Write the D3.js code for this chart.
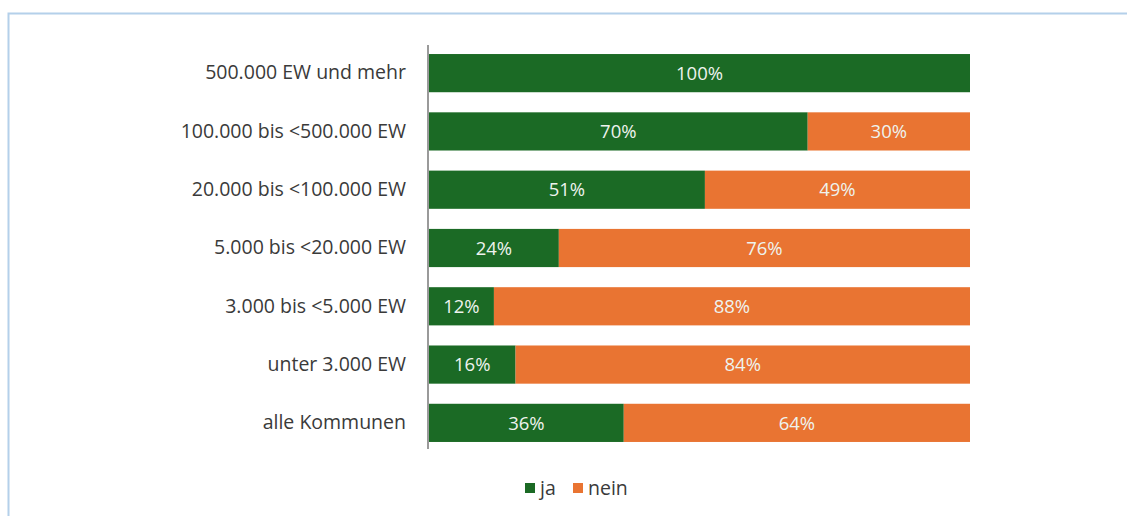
<!DOCTYPE html>
<html>
<head>
<meta charset="utf-8">
<script src="https://cdn.jsdelivr.net/npm/d3@7"></script>
<style>
  body { margin: 0; background: #fff; }
  svg text { font-family: "Open Sans", "Noto Sans", sans-serif; }
</style>
</head>
<body>
<div id="graph"></div>
<script>
const categories = ["500.000 EW und mehr", "100.000 bis <500.000 EW", "20.000 bis <100.000 EW",
  "5.000 bis <20.000 EW", "3.000 bis <5.000 EW", "unter 3.000 EW", "alle Kommunen"];
const ja = [100, 70, 51, 24, 12, 16, 36];
const nein = [0, 30, 49, 76, 88, 84, 64];
const seriesNames = ["ja", "nein"];
const colors = ["#1b6a25", "#e97432"];

const fullWidth = 1127;
const fullHeight = 516;

const svg = d3.select("#graph")
  .append("svg")
  .attr("width", fullWidth)
  .attr("height", fullHeight);

// frame (light blue, top and left)
svg.append("path")
  .attr("d", "M8.5,516 V13.5 H1127")
  .attr("fill", "none")
  .attr("stroke", "#b4d0ea")
  .attr("stroke-width", 2);

const rows = categories.map((c, i) => ({ name: c, ja: ja[i], nein: nein[i] }));
const stacked = d3.stack().keys(seriesNames)(rows);

const x = d3.scaleLinear().domain([0, 100]).range([429, 970]);
// step 58, bar 38
const y = d3.scaleBand().domain(categories).range([45, 451]).paddingInner(20 / 58).paddingOuter(0.155);

// bars
const groups = svg.append("g").selectAll("g")
  .data(stacked)
  .enter().append("g")
  .attr("fill", (d, i) => colors[i]);

groups.selectAll("rect")
  .data(d => d.filter(s => s[1] - s[0] > 0))
  .enter().append("rect")
  .attr("x", d => x(d[0]))
  .attr("y", d => y(d.data.name))
  .attr("width", d => x(d[1]) - x(d[0]))
  .attr("height", y.bandwidth());

// value labels
groups.selectAll("text")
  .data(d => d.filter(s => s[1] - s[0] > 0))
  .enter().append("text")
  .attr("x", d => (x(d[0]) + x(d[1])) / 2)
  .attr("y", d => y(d.data.name) + y.bandwidth() / 2)
  .attr("dy", "0.36em")
  .attr("text-anchor", "middle")
  .attr("fill", "#eef3ee")
  .style("font-size", "18.5px")
  .text(d => (d[1] - d[0]) + "%");

// y axis
const yAxis = svg.append("g")
  .attr("transform", "translate(428,0)")
  .call(d3.axisLeft(y).tickSize(0).tickPadding(22));
yAxis.select(".domain").attr("stroke", "#9a9a9a").attr("stroke-width", 2)
  .attr("d", "M0,45V449");
yAxis.selectAll("text").style("font-size", "19.5px").attr("fill", "#3a3a3a")
  .style("font-family", "\"Open Sans\", \"Noto Sans\", sans-serif");

// legend
const legend = svg.append("g").selectAll("g")
  .data(seriesNames)
  .enter().append("g")
  .attr("transform", (d, i) => "translate(" + [525, 573][i] + ",483)");
legend.append("rect")
  .attr("width", 10).attr("height", 10)
  .attr("fill", (d, i) => colors[i]);
legend.append("text")
  .attr("x", 15).attr("y", 5).attr("dy", "0.36em")
  .style("font-size", "19.5px").attr("fill", "#3a3a3a")
  .text(d => d);
</script>
</body>
</html>
